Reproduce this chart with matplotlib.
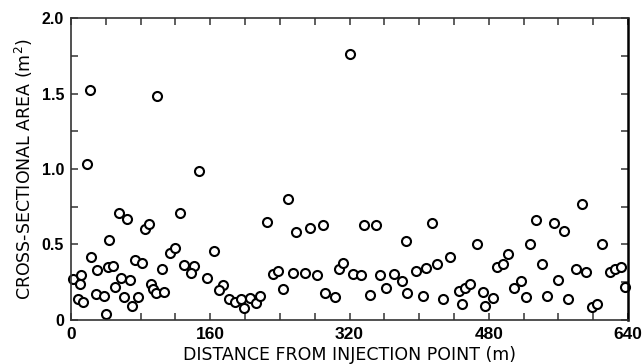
import numpy as np
import matplotlib.pyplot as plt
from matplotlib.ticker import MultipleLocator, FixedLocator

# distance from injection point (m) and cross-sectional area (m^2)
distance = np.array([2, 11, 10, 8, 14, 23, 30, 29, 38, 40, 42, 48, 44, 55, 64, 58, 51,
                     61, 68, 70, 77, 74, 82, 85, 90, 92, 94, 98, 107, 104, 114, 119,
                     125, 130, 22, 99, 18, 147, 321,
                     141, 138, 156, 164, 175, 170, 181, 188, 195, 199, 206, 212, 217,
                     225, 249, 232, 238, 244, 255, 259, 275, 289, 269, 283, 292, 303,
                     308, 313, 324, 333, 337, 350, 343, 355, 371, 362, 380, 385, 386,
                     396, 408, 420, 415, 404, 427, 435, 446, 453, 459, 449, 466, 473,
                     476, 485, 489, 496, 502, 509, 517, 523, 527, 534, 541, 547, 555,
                     566, 560, 571, 587, 580, 592, 599, 604, 610, 619, 625, 632, 637])
area = np.array([0.27, 0.30, 0.24, 0.14, 0.12, 0.415, 0.33, 0.17, 0.16, 0.04, 0.35, 0.36,
                 0.53, 0.71, 0.67, 0.28, 0.22, 0.15, 0.265, 0.09, 0.15, 0.40, 0.375, 0.60,
                 0.635, 0.24, 0.205, 0.177, 0.183, 0.34, 0.445, 0.48, 0.71, 0.367, 1.52,
                 1.485, 1.03, 0.99, 1.76,
                 0.36, 0.31, 0.28, 0.46, 0.23, 0.20, 0.137, 0.117, 0.137, 0.08, 0.148,
                 0.11, 0.16, 0.65, 0.80, 0.305, 0.325, 0.205, 0.31, 0.58, 0.61, 0.63,
                 0.31, 0.30, 0.177, 0.15, 0.335, 0.375, 0.305, 0.30, 0.63, 0.63, 0.165,
                 0.295, 0.305, 0.215, 0.255, 0.52, 0.177, 0.325, 0.345, 0.37, 0.645,
                 0.16, 0.137, 0.42, 0.195, 0.215, 0.24, 0.105, 0.50, 0.183, 0.09, 0.148,
                 0.35, 0.37, 0.435, 0.215, 0.255, 0.155, 0.50, 0.66, 0.37, 0.16, 0.645,
                 0.59, 0.265, 0.137, 0.765, 0.335, 0.315, 0.088, 0.104, 0.50, 0.32,
                 0.335, 0.35, 0.22])

plt.rcParams['font.family'] = ['Liberation Sans', 'DejaVu Sans']

fig = plt.figure(figsize=(6.43, 3.64), dpi=100)
ax = fig.add_axes([0.1104, 0.1209, 0.8663, 0.8296])

ax.plot(distance, area, 'o', markersize=6.5, markerfacecolor='white',
        markeredgecolor='black', markeredgewidth=1.5, clip_on=False)

ax.set_xlim(0, 640)
ax.set_ylim(0, 2.0)

ax.xaxis.set_major_locator(FixedLocator([0, 160, 320, 480, 640]))
ax.xaxis.set_minor_locator(MultipleLocator(40))
ax.yaxis.set_major_locator(FixedLocator([0, 0.5, 1.0, 1.5, 2.0]))
ax.yaxis.set_minor_locator(MultipleLocator(0.25))
ax.set_xticklabels(['0', '160', '320', '480', '640'], fontsize=12.5, fontweight='bold')
ax.set_yticklabels(['0', '0.5', '1.0', '1.5', '2.0'], fontsize=11.5, fontweight='bold')

ax.tick_params(which='both', direction='in', top=True, right=True,
               length=5, width=1.1, color='#333333')
ax.tick_params(axis='x', pad=5)
ax.tick_params(axis='y', pad=5)

for side in ['left', 'top', 'bottom']:
    ax.spines[side].set_linewidth(1.2)
    ax.spines[side].set_color('#333333')
ax.spines['right'].set_linewidth(1.8)
ax.spines['right'].set_color('black')

ax.set_xlabel('DISTANCE FROM INJECTION POINT (m)', family='DejaVu Sans',
              fontsize=12.5, labelpad=3)
ax.set_ylabel('CROSS-SECTIONAL AREA (m$^2$)', family='DejaVu Sans',
              fontsize=12.5, labelpad=5)

fig.savefig('out.png', dpi=100)
